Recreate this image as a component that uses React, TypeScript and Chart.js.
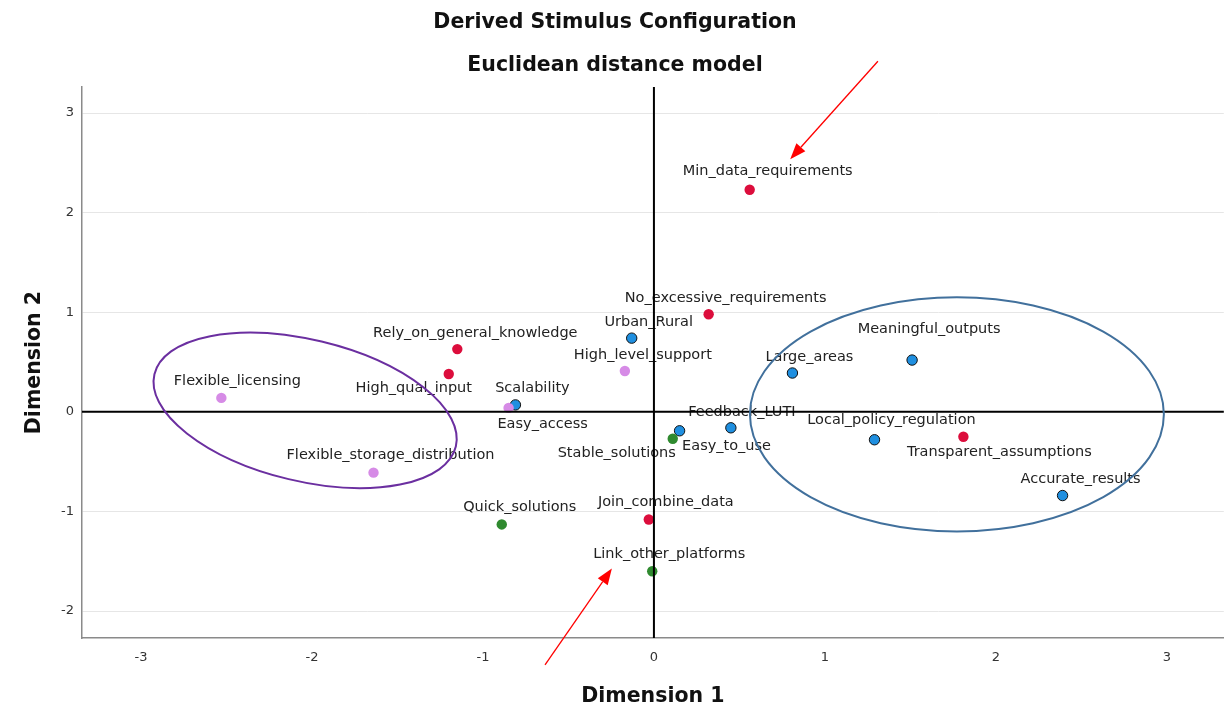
import React, { useEffect, useRef } from "react";
import { Chart, registerables } from "chart.js";

Chart.register(...registerables);

// ---- Data ----
const titleLines = ["Derived Stimulus Configuration", "Euclidean distance model"];
const xAxisTitle = "Dimension 1";
const yAxisTitle = "Dimension 2";

const stimuli = [
  "Min_data_requirements",
  "No_excessive_requirements",
  "Urban_Rural",
  "Rely_on_general_knowledge",
  "High_qual_input",
  "High_level_support",
  "Scalability",
  "Easy_access",
  "Flexible_licensing",
  "Flexible_storage_distribution",
  "Meaningful_outputs",
  "Large_areas",
  "Feedback_LUTI",
  "Easy_to_use",
  "Stable_solutions",
  "Local_policy_regulation",
  "Transparent_assumptions",
  "Accurate_results",
  "Quick_solutions",
  "Join_combine_data",
  "Link_other_platforms",
];
const dim1 = [0.56, 0.32, -0.13, -1.15, -1.2, -0.17, -0.81, -0.85, -2.53, -1.64, 1.51, 0.81, 0.45, 0.15, 0.11, 1.29, 1.81, 2.39, -0.89, -0.03, -0.01];
const dim2 = [2.23, 0.98, 0.74, 0.63, 0.38, 0.41, 0.07, 0.04, 0.14, -0.61, 0.52, 0.39, -0.16, -0.19, -0.27, -0.28, -0.25, -0.84, -1.13, -1.08, -1.6];
const groups = ["red", "red", "blue", "red", "red", "violet", "blue", "violet", "violet", "violet", "blue", "blue", "blue", "blue", "green", "blue", "red", "blue", "green", "red", "green"];

const groupOrder = ["red", "green", "violet", "blue"];

const xMin = -3.345;
const xMax = 3.333;
const yMin = -2.27;
const yMax = 3.26;

// ---- Label placement (pixel offsets of text centre from its point) ----
const labelOffsetsPx = [
  [18, -18], [17, -16], [17, -16], [18, -16], [-35, 14], [18, -16], [17, -17], [34, 16],
  [16, -17], [17, -17], [17, -31], [17, -16], [11, -16], [47, 15], [-56, 14], [17, -20],
  [36, 15], [18, -16], [18, -17], [17, -17], [17, -17],
];

// ---- Annotations (data units) ----
const ellipses = [
  { cx: -2.04, cy: 0.015, rx: 155 / 171, ry: 0.71, rot: 13.5, color: "#6b2fa0" },
  { cx: 1.772, cy: -0.025, rx: 207 / 171, ry: 1.175, rot: 0, color: "#41709c" },
];
const arrows = [
  { x1: 1.31, y1: 3.52, x2: 0.797, y2: 2.537 },
  { x1: -0.637, y1: -2.54, x2: -0.246, y2: -1.573 },
];

const styles: Record<string, { bg: string; border: string; bw: number }> = {
  red: { bg: "#dc0d3c", border: "#dc0d3c", bw: 0 },
  blue: { bg: "#1f8fe0", border: "#111111", bw: 1 },
  violet: { bg: "#d68be6", border: "#d68be6", bw: 0 },
  green: { bg: "#2f8a2f", border: "#2f8a2f", bw: 0 },
};

const overlay = {
  id: "overlay",
  afterDatasetsDraw(chart: any) {
    const { ctx, chartArea: a, scales } = chart;
    const x = scales.x;
    const y = scales.y;
    ctx.save();
    // labels
    ctx.font = '14.5px "DejaVu Sans"';
    ctx.fillStyle = "#222";
    ctx.textAlign = "center";
    ctx.textBaseline = "middle";
    stimuli.forEach((s, i) => {
      const px = x.getPixelForValue(dim1[i]);
      const py = y.getPixelForValue(dim2[i]);
      ctx.fillText(s, px + labelOffsetsPx[i][0], py + labelOffsetsPx[i][1]);
    });
    // zero reference lines
    const x0 = x.getPixelForValue(0);
    const y0 = y.getPixelForValue(0);
    ctx.strokeStyle = "#000";
    ctx.lineWidth = 2;
    ctx.beginPath();
    ctx.moveTo(a.left, y0);
    ctx.lineTo(a.right, y0);
    ctx.moveTo(x0, a.top);
    ctx.lineTo(x0, a.bottom);
    ctx.stroke();
    // ellipses
    ellipses.forEach((e) => {
      const cx = x.getPixelForValue(e.cx);
      const cy = y.getPixelForValue(e.cy);
      const rx = Math.abs(x.getPixelForValue(e.cx + e.rx) - cx);
      const ry = Math.abs(y.getPixelForValue(e.cy + e.ry) - cy);
      ctx.strokeStyle = e.color;
      ctx.lineWidth = 2;
      ctx.beginPath();
      ctx.ellipse(cx, cy, rx, ry, (e.rot * Math.PI) / 180, 0, Math.PI * 2);
      ctx.stroke();
    });
    // arrows
    arrows.forEach((ar) => {
      const x1 = x.getPixelForValue(ar.x1);
      const y1 = y.getPixelForValue(ar.y1);
      const x2 = x.getPixelForValue(ar.x2);
      const y2 = y.getPixelForValue(ar.y2);
      const ang = Math.atan2(y2 - y1, x2 - x1);
      const hl = 16;
      const hw = 6;
      const bx = x2 - hl * Math.cos(ang);
      const by = y2 - hl * Math.sin(ang);
      ctx.strokeStyle = "#ff0000";
      ctx.fillStyle = "#ff0000";
      ctx.lineWidth = 1.3;
      ctx.beginPath();
      ctx.moveTo(x1, y1);
      ctx.lineTo(bx, by);
      ctx.stroke();
      ctx.beginPath();
      ctx.moveTo(x2, y2);
      ctx.lineTo(bx - hw * Math.sin(ang), by + hw * Math.cos(ang));
      ctx.lineTo(bx + hw * Math.sin(ang), by - hw * Math.cos(ang));
      ctx.closePath();
      ctx.fill();
    });
    ctx.restore();
  },
};

export default function App() {
  const ref = useRef<HTMLCanvasElement | null>(null);
  useEffect(() => {
    document.body.style.margin = "0";
    if (!ref.current) return;
    const datasets = groupOrder.map((g) => {
      const pts: { x: number; y: number }[] = [];
      stimuli.forEach((_, i) => {
        if (groups[i] === g) pts.push({ x: dim1[i], y: dim2[i] });
      });
      return {
        label: g,
        data: pts,
        backgroundColor: styles[g].bg,
        borderColor: styles[g].border,
        borderWidth: styles[g].bw,
        pointRadius: 5.2,
        pointHoverRadius: 5.2,
      };
    });
    const chart = new Chart(ref.current, {
      type: "scatter",
      data: { datasets },
      plugins: [overlay],
      options: {
        responsive: false,
        animation: false,
        layout: { padding: 0 },
        plugins: {
          legend: { display: false },
          tooltip: { enabled: false },
          title: {
            display: true,
            text: titleLines,
            color: "#111",
            font: { family: '"DejaVu Sans"', size: 20.5, weight: "bold", lineHeight: 2.1 },
            padding: { top: 1, bottom: 0 },
          },
        },
        scales: {
          x: {
            type: "linear",
            min: xMin,
            max: xMax,
            afterFit: (s: any) => {
              s.height = 70;
              s.paddingLeft = 0;
              s.paddingRight = 0;
            },
            ticks: {
              stepSize: 1,
              includeBounds: false,
              padding: 12,
              color: "#333",
              font: { family: '"DejaVu Sans"', size: 13 },
            },
            grid: { color: "rgba(0,0,0,0)", drawTicks: false },
            border: { display: true, color: "#8a8a8a", width: 1.5 },
            title: {
              display: true,
              text: xAxisTitle,
              color: "#111",
              font: { family: '"DejaVu Sans"', size: 20.5, weight: "bold", lineHeight: 1.1 },
              padding: { top: 0, bottom: 0 },
            },
          },
          y: {
            type: "linear",
            min: yMin,
            max: yMax,
            afterFit: (s: any) => {
              s.width = 82;
              s.paddingTop = 0;
              s.paddingBottom = 0;
            },
            ticks: {
              stepSize: 1,
              includeBounds: false,
              padding: 8,
              color: "#333",
              font: { family: '"DejaVu Sans"', size: 13 },
            },
            grid: { color: "#e6e6e6", lineWidth: 1, drawTicks: false },
            border: { display: true, color: "#8a8a8a", width: 1.5 },
            title: {
              display: true,
              text: yAxisTitle,
              color: "#111",
              font: { family: '"DejaVu Sans"', size: 20.5, weight: "bold", lineHeight: 1.2 },
              padding: { top: 22, bottom: 0 },
            },
          },
        },
      },
    });
    return () => chart.destroy();
  }, []);
  return (
    <div style={{ width: 1224, height: 708, overflow: "hidden" }}>
      <canvas ref={ref} width={1230} height={708} style={{ display: "block" }} />
    </div>
  );
}
